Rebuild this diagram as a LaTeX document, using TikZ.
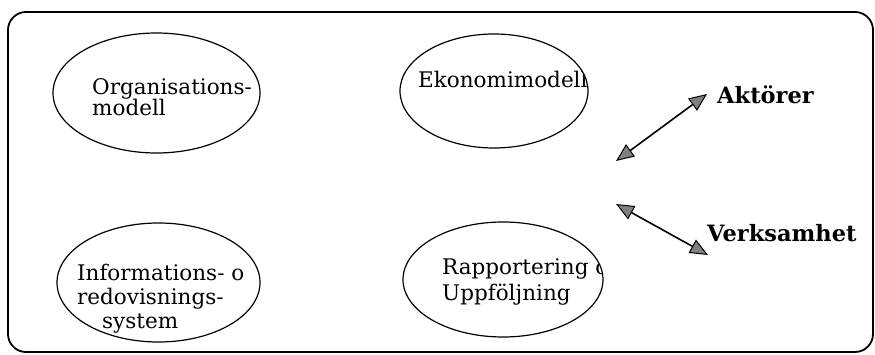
\documentclass[tikz,border=0pt]{standalone}
\usepackage{fontspec}
\setmainfont{DejaVu Serif}
\usetikzlibrary{shapes.geometric,arrows.meta}
\tikzset{
  frame/.style={draw, line width=1.8pt, rounded corners=18pt},
  bubble/.style={ellipse, draw, line width=1.2pt, inner sep=0pt},
  label/.style={anchor=base west, inner sep=0pt, font=\fontsize{21.5}{22}\selectfont},
  tag/.style={anchor=base west, inner sep=0pt, font=\fontsize{22.5}{23}\selectfont\bfseries},
  link/.style={line width=1.6pt,
    {Triangle[length=18pt,width=15pt,fill=gray,line width=1pt]}-{Triangle[length=18pt,width=15pt,fill=gray,line width=1pt]}}
}
\begin{document}
\begin{tikzpicture}[x=1pt,y=-1pt]
\useasboundingbox (0,0) rectangle (875,355);

% outer frame
\draw[frame] (8,12) rectangle (873,352);

% the four model areas
\node[bubble, minimum width=207pt, minimum height=120pt] (org) at (156.5,93) {};
\node[bubble, minimum width=188pt, minimum height=114pt] (eko) at (494,91) {};
\node[bubble, minimum width=203pt, minimum height=119pt] (info) at (158.5,282.5) {};
\node[bubble, minimum width=200pt, minimum height=115pt] (rap) at (503,279.5) {};

% texts, kept inside their ellipses
\begin{scope}
  \clip (org.center) ellipse [x radius=103.5, y radius=60];
  \node[label] (orgA) at (92,95) {Organisations-};
  \node[label] (orgB) at (92,116) {modell};
\end{scope}
\begin{scope}
  \clip (eko.center) ellipse [x radius=94, y radius=57];
  \node[label] (ekoA) at (418,88) {Ekonomimodell};
\end{scope}
\begin{scope}
  \clip (info.center) ellipse [x radius=101.5, y radius=59.5];
  \node[label] (infoA) at (77,280) {Informations- o};
  \node[label] (infoB) at (77,304) {redovisnings-};
  \node[label] (infoC) at (102,328) {system};
\end{scope}
\begin{scope}
  \clip (rap.center) ellipse [x radius=100, y radius=57.5];
  \node[label] (rapA) at (442,275) {Rapportering o};
  \node[label] (rapB) at (442,300) {Uppföljning};
\end{scope}

% actors and operations
\node[tag] (akt) at (717,104) {Aktörer};
\node[tag] (verk) at (707,242) {Verksamhet};

\coordinate (a1) at (616,161);
\coordinate (a2) at (707,94);
\coordinate (v1) at (616,204);
\coordinate (v2) at (708,255);
\draw[link] (a1) -- (a2);
\draw[link] (v1) -- (v2);
\end{tikzpicture}
\end{document}
